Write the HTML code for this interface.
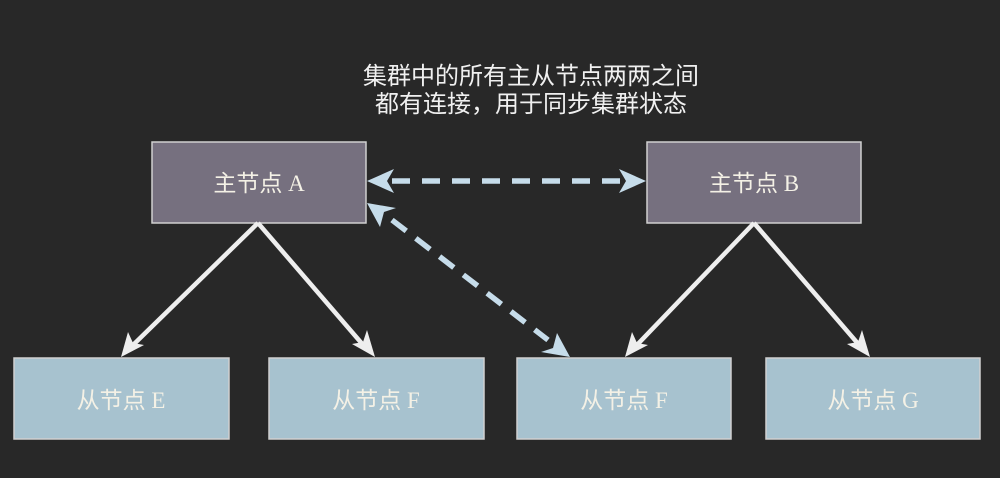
<!DOCTYPE html>
<html><head><meta charset="utf-8"><style>
html,body{margin:0;padding:0;background:#282828;}
svg{display:block}
text{font-family:"Liberation Serif","Noto Sans CJK SC",serif;fill:#f4f1e6}
.t{font-family:"Liberation Sans","Noto Sans CJK SC",sans-serif;fill:#f0f0f0;font-size:24px}
</style></head><body>
<svg width="1000" height="478" viewBox="0 0 1000 478" xmlns="http://www.w3.org/2000/svg">
<rect width="1000" height="478" fill="#282828"/>
<text class="t" x="531" y="84" text-anchor="middle">集群中的所有主从节点两两之间</text>
<text class="t" x="531" y="112" text-anchor="middle">都有连接，用于同步集群状态</text>
<g stroke="#d0d0d0" stroke-width="1.5">
<rect x="152" y="142" width="214" height="81" fill="#76707f"/>
<rect x="647" y="142" width="214" height="81" fill="#76707f"/>
<rect x="14" y="358" width="215" height="81" fill="#a7c2cf"/>
<rect x="269" y="358" width="215" height="81" fill="#a7c2cf"/>
<rect x="517" y="358" width="214" height="81" fill="#a7c2cf"/>
<rect x="766" y="358" width="214" height="81" fill="#a7c2cf"/>
</g>
<g font-size="23" text-anchor="middle">
<text x="259" y="191">主节点 A</text>
<text x="754" y="191">主节点 B</text>
<text x="121" y="408">从节点 E</text>
<text x="376" y="408">从节点 F</text>
<text x="624" y="408">从节点 F</text>
<text x="873" y="408">从节点 G</text>
</g>
<g stroke="#eeeeee" stroke-width="4.5" fill="none">
<line x1="258" y1="223" x2="132" y2="346"/>
<line x1="258" y1="223" x2="364" y2="346"/>
<line x1="754" y1="223" x2="636" y2="346"/>
<line x1="754" y1="223" x2="860" y2="346"/>
</g>
<g fill="#eeeeee">
<path d="M121,357 L128,332 L133,343 L144,345 Z"/>
<path d="M375,357 L352,344 L363,342 L367,330 Z"/>
<path d="M625,357 L632,332 L637,343 L648,345 Z"/>
<path d="M870,357 L847,344 L858,342 L862,330 Z"/>
</g>
<g stroke="#c6dcea" stroke-width="5.5" fill="none" stroke-dasharray="18,12">
<line x1="392" y1="181" x2="625" y2="181"/>
<line x1="392" y1="220" x2="548" y2="340"/>
</g>
<g fill="#c6dcea">
<path d="M367,181 L394,169 L387,181 L394,193 Z"/>
<path d="M646,181 L619,169 L626,181 L619,193 Z"/>
<path d="M367,203 L396,208 L384,212 L380,227 Z"/>
<path d="M570,357 L541,352 L553,348 L557,333 Z"/>
</g>
</svg>
</body></html>
